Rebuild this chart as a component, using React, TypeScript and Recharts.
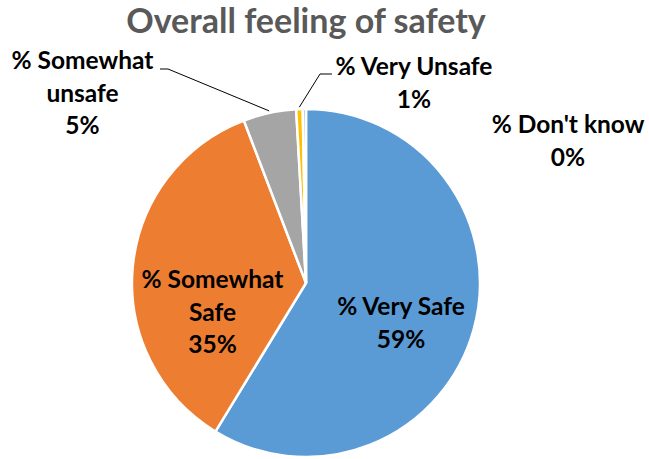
import React from "react";
import { PieChart, Pie, Cell } from "recharts";

const categories = ["% Very Safe", "% Somewhat Safe", "% Somewhat unsafe", "% Very Unsafe", "% Don't know"];
const values = [58.6, 35.4, 4.9, 0.6, 0.3];
const percentLabels = ["59%", "35%", "5%", "1%", "0%"];
const labelLines = [["% Very Safe"], ["% Somewhat", "Safe"], ["% Somewhat", "unsafe"], ["% Very Unsafe"], ["% Don't know"]];
const colors = ["#5B9BD5", "#ED7D31", "#A5A5A5", "#FFC000", "#9DC3E6"];

// label placement relative to pie centre (text centre x, first baseline y)
const labelOffsets = [
  [95, 32],
  [-93.5, 5],
  [-223.5, -214],
  [108, -208],
  [262, -150],
];
// leader lines: [elbowDx, elbowDy, endDx] or null
const leaders: (number[] | null)[] = [null, null, [-138, -214, -146], [14, -209, 26], null];

const data = categories.map((name, i) => ({ name, value: values[i] }));

const RAD = Math.PI / 180;
const LINE_H = 32.5;

const renderLabel = (props: any) => {
  const { cx, cy, midAngle, outerRadius, index } = props;
  const [dx, dy] = labelOffsets[index];
  const lines = [...labelLines[index], percentLabels[index]];
  const x = cx + dx;
  const y0 = cy + dy;
  const leader = leaders[index];
  let path: React.ReactNode = null;
  if (leader) {
    const r = outerRadius + 2;
    const sx = cx + r * Math.cos(-midAngle * RAD);
    const sy = cy + r * Math.sin(-midAngle * RAD);
    path = (
      <polyline
        points={`${sx},${sy} ${cx + leader[0]},${cy + leader[1]} ${cx + leader[2]},${cy + leader[1]}`}
        fill="none"
        stroke="#000"
        strokeWidth={1}
      />
    );
  }
  return (
    <g key={`lbl-${index}`}>
      {path}
      <text
        x={x}
        y={y0}
        textAnchor="middle"
        fill="#000"
        fontFamily="Lato, sans-serif"
        fontWeight={700}
        fontSize={24.5}
      >
        {lines.map((l, i) => (
          <tspan key={i} x={x} y={y0 + i * LINE_H}>
            {l}
          </tspan>
        ))}
      </text>
    </g>
  );
};

export default function App() {
  return (
    <div style={{ position: "absolute", left: 0, top: 0, width: 649, height: 459, background: "#fff" }}>
      <div
        style={{
          position: "absolute",
          left: 0,
          top: 0,
          width: 612,
          textAlign: "center",
          fontFamily: "Lato, sans-serif",
          fontWeight: 700,
          fontSize: 34,
          color: "#595959",
          lineHeight: "40px",
        }}
      >
        Overall feeling of safety
      </div>
      <PieChart
        width={649}
        height={459}
        margin={{ top: 0, right: 0, bottom: 0, left: 0 }}
        style={{ position: "absolute", left: 0, top: 0 }}
      >
        <Pie
          data={data}
          dataKey="value"
          nameKey="name"
          cx={306}
          cy={283}
          outerRadius={174}
          startAngle={90}
          endAngle={-270}
          stroke="#fff"
          strokeWidth={2.5}
          label={renderLabel}
          labelLine={false}
          isAnimationActive={false}
        >
          {data.map((d, i) => (
            <Cell key={d.name} fill={colors[i]} />
          ))}
        </Pie>
      </PieChart>
    </div>
  );
}
